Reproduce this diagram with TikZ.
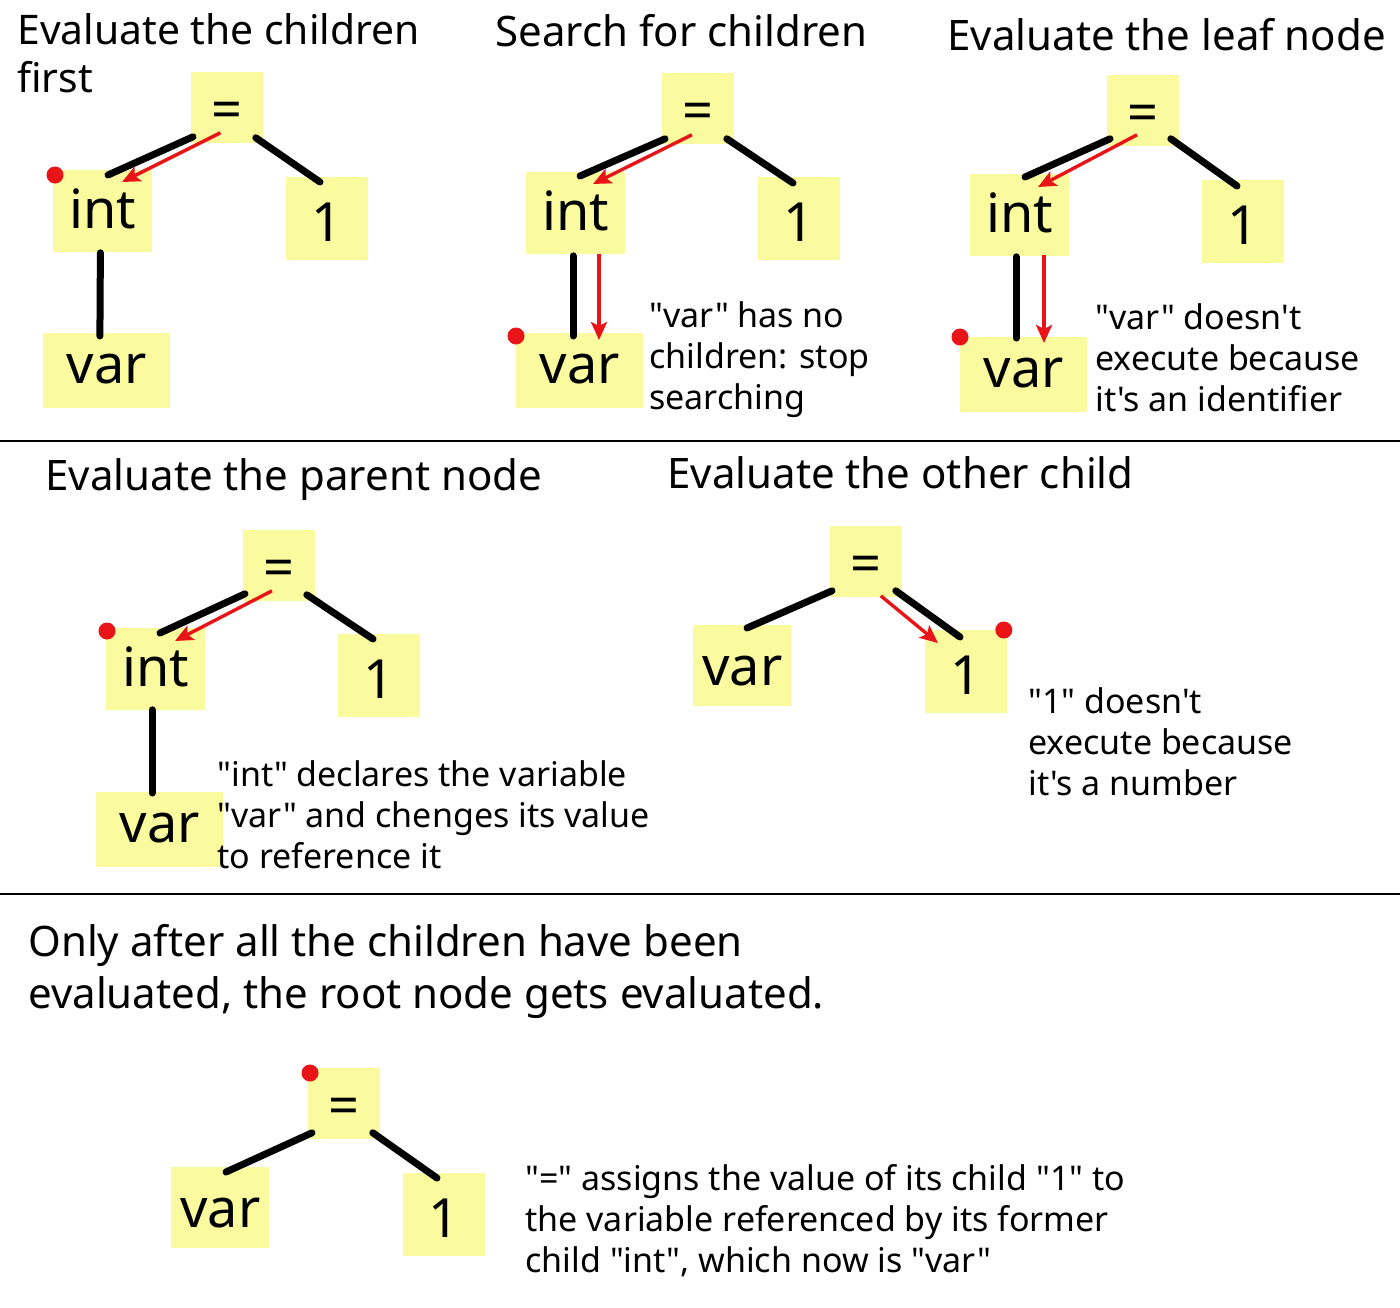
\documentclass[tikz,border=0pt]{standalone}
\usepackage{fontspec}
\setmainfont{Noto Sans}[Ligatures=TeXOff]
\usetikzlibrary{arrows.meta}
\definecolor{boxy}{RGB}{250,250,158}
\definecolor{redc}{RGB}{232,20,24}
\tikzset{
  tb/.style={fill=boxy, inner sep=0pt, anchor=north west, font=\fontsize{27pt}{30pt}\selectfont},
  eqb/.style={tb, minimum width=36pt, text height=28pt, text depth=7.5pt},
  intb/.style={tb, minimum width=49.5pt, text height=29pt, text depth=12pt},
  oneb/.style={tb, minimum width=41pt, text height=32pt, text depth=9.5pt},
  varb/.style={tb, minimum width=63.5pt, text height=25pt, text depth=12.5pt},
  varsb/.style={tb, minimum width=49pt, text height=30pt, text depth=10.5pt},
  blk/.style={line width=3.5pt, line cap=round},
  rarr/.style={redc, line width=1.7pt, -{Stealth[length=9pt,width=8pt,inset=2pt]}},
  titletxt/.style={inner sep=0pt, anchor=base west, align=left, font=\fontsize{21pt}{23.5pt}\selectfont},
  notetxt/.style={inner sep=0pt, anchor=base west, align=left, font=\fontsize{17pt}{20.5pt}\selectfont},
  bigtxt/.style={inner sep=0pt, anchor=base west, align=left, font=\fontsize{21pt}{26pt}\selectfont},
  sepline/.style={line width=1.25pt}
}
\begin{document}
\begin{tikzpicture}[x=0.5pt,y=-0.5pt]
\fill[white] (0,0) rectangle (1400,1307);
\useasboundingbox (0,0) rectangle (1400,1307);

% separators
\draw[sepline] (0,441) -- (1400,441);
\draw[sepline] (0,894) -- (1400,894);

% ---------- Panel 1 ----------
\node[titletxt, font=\fontsize{20.4pt}{24pt}\selectfont] (t1) at (17,92) {Evaluate the children\\first};
\node[eqb] (eq1) at (191,72) {=};
\node[intb] (int1) at (53,170) {int};
\node[oneb] (one1) at (286,177) {1};
\node[varb] (var1) at (43,333) {var};
\draw[blk] ([shift={(2,-7)}]eq1.south west) -- ([shift={(55,5)}]int1.north west);
\draw[blk] ([shift={(-8,-6)}]eq1.south east) -- ([shift={(34,5)}]one1.north west);
\draw[rarr] ([shift={(-7,-11)}]eq1.south) -- ([shift={(69,12)}]int1.north west);
\draw[blk] ([shift={(-2.5,0)}]int1.south) -- ([shift={(-7,3)}]var1.north);
\fill[redc] ([shift={(2,5)}]int1.north west) circle (4.25pt);

% ---------- Panel 2 ----------
\node[titletxt] (t2) at (495,46) {Search for children};
\node[eqb] (eq2) at (662,73) {=};
\node[intb] (int2) at (526,172) {int};
\node[oneb] (one2) at (758,177) {1};
\node[varb] (var2) at (516,333) {var};
\draw[blk] ([shift={(3,-6)}]eq2.south west) -- ([shift={(54,4)}]int2.north west);
\draw[rarr] ([shift={(-6.5,-10)}]eq2.south) -- ([shift={(67,12)}]int2.north west);
\draw[blk] ([shift={(-8,-6)}]eq2.south east) -- ([shift={(35,6)}]one2.north west);
\draw[blk] ([shift={(47,1)}]int2.south west) -- ([shift={(57,3)}]var2.north west);
\draw[rarr] ([shift={(73,-1)}]int2.south west) -- ([shift={(83,7)}]var2.north west);
\fill[redc] ([shift={(0,3)}]var2.north west) circle (4.25pt);
\node[notetxt] (n2) at (649,409) {"var" has no\\children: stop\\searching};

% ---------- Panel 3 ----------
\node[titletxt] (t3) at (947,50) {Evaluate the leaf node};
\node[eqb] (eq3) at (1107,75) {=};
\node[intb] (int3) at (970,174) {int};
\node[oneb] (one3) at (1202,180) {1};
\node[varb] (var3) at (960,337) {var};
\draw[blk] ([shift={(3,-8)}]eq3.south west) -- ([shift={(55,3)}]int3.north west);
\draw[rarr] ([shift={(30,-12)}]eq3.south west) -- ([shift={(68,13)}]int3.north west);
\draw[blk] ([shift={(-9,-8)}]eq3.south east) -- ([shift={(35,6)}]one3.north west);
\draw[blk] ([shift={(46,0)}]int3.south west) -- ([shift={(56,1)}]var3.north west);
\draw[rarr] ([shift={(74,-2)}]int3.south west) -- ([shift={(84,6)}]var3.north west);
\fill[redc] (var3.north west) circle (4.25pt);
\node[notetxt] (n3) at (1095,411) {"var" doesn't\\execute because\\it's an identifier};

% ---------- Panel 4 ----------
\node[titletxt] (t4) at (45,490) {Evaluate the parent node};
\node[eqb] (eq4) at (243,530) {=};
\node[intb] (int4) at (106,628) {int};
\node[oneb] (one4) at (338,634) {1};
\node[varb] (var4) at (96,792) {var};
\draw[blk] ([shift={(2,-8)}]eq4.south west) -- ([shift={(54,5)}]int4.north west);
\draw[rarr] ([shift={(29,-11)}]eq4.south west) -- ([shift={(69,13)}]int4.north west);
\draw[blk] ([shift={(-9,-7)}]eq4.south east) -- ([shift={(35,5)}]one4.north west);
\draw[blk] ([shift={(46,-1)}]int4.south west) -- ([shift={(56,1)}]var4.north west);
\fill[redc] ([shift={(1,3)}]int4.north west) circle (4.25pt);
\node[notetxt] (n4) at (217,868) {"int" declares the variable\\"var" and chenges its value\\to reference it};

% ---------- Panel 5 ----------
\node[titletxt] (t5) at (667,488) {Evaluate the other child};
\node[eqb] (eq5) at (830,526) {=};
\node[varsb] (var5) at (693,625) {var};
\node[oneb] (one5) at (925,630) {1};
\draw[blk] ([shift={(2,-7)}]eq5.south west) -- ([shift={(54,3)}]var5.north west);
\draw[blk] ([shift={(-7,-7)}]eq5.south east) -- ([shift={(35,7)}]one5.north west);
\draw[rarr] ([shift={(-22,-2)}]eq5.south east) -- ([shift={(13,13)}]one5.north west);
\fill[redc] ([shift={(-4,0)}]one5.north east) circle (4.25pt);
\node[notetxt] (n5) at (1028,795) {"1" doesn't\\execute because\\it's a number};

% ---------- Panel 6 ----------
\node[bigtxt] (t6) at (28,1008) {Only after all the children have been\\evaluated, the root node gets evaluated.};
\node[eqb] (eq6) at (308,1068) {=};
\node[varsb] (var6) at (171,1167) {var};
\node[oneb] (one6) at (403,1173) {1};
\draw[blk] ([shift={(4,-7)}]eq6.south west) -- ([shift={(55,5)}]var6.north west);
\draw[blk] ([shift={(-8,-7)}]eq6.south east) -- ([shift={(34,5)}]one6.north west);
\fill[redc] ([shift={(2,5)}]eq6.north west) circle (4.25pt);
\node[notetxt] (n6) at (525,1272) {"=" assigns the value of its child "1" to\\the variable referenced by its former\\child "int", which now is "var"};
\end{tikzpicture}
\end{document}
